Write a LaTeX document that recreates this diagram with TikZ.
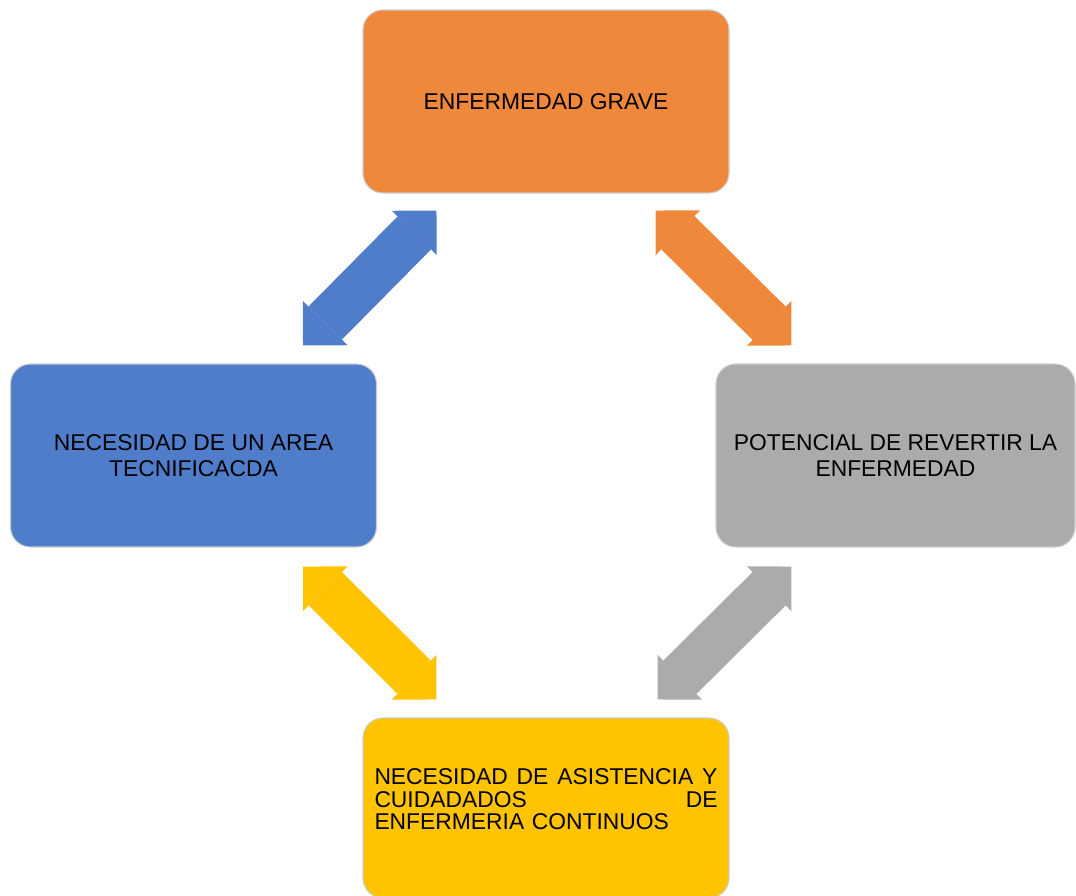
\documentclass[tikz,border=0pt]{standalone}
\usepackage{fontspec}
\setmainfont{Liberation Sans}
\usetikzlibrary{arrows.meta}
\definecolor{naranja}{RGB}{239,136,58}
\definecolor{azul}{RGB}{79,125,201}
\definecolor{gris}{RGB}{171,171,171}
\definecolor{amarillo}{RGB}{255,195,0}

\begin{document}
\begin{tikzpicture}[caja/.style={rounded corners=0.4cm, draw=white!80!black, line width=0.6pt, minimum width=7.32cm, minimum height=3.66cm, align=center, font=\fontsize{13}{14.6}\selectfont},
	punta/.tip={Triangle[width=1.26cm, length=0.63cm, line width=0pt]}]
		\useasboundingbox (0,0) rectangle (21.52,-17.92);
		\node[caja, fill=naranja] (grave) at (10.92,-2.03) {ENFERMEDAD GRAVE};
		\node[caja, fill=azul] (area) at (3.87,-9.11) {NECESIDAD DE UN AREA\\TECNIFICACDA};
		\node[caja, fill=gris, minimum width=7.18cm] (revertir) at (17.91,-9.11) {POTENCIAL DE REVERTIR LA\\ENFERMEDAD};
		\node[caja, fill=amarillo, minimum height=3.6cm, text width=6.86cm, align=left, font=\fontsize{13}{13}\selectfont] (cuidados) at (10.92,-16.16)
			{NECESIDAD\hfill DE\hfill ASISTENCIA\hfill Y\\CUIDADADOS\hfill DE\\ENFERMERIA CONTINUOS\\[-0.1cm]\mbox{}};
		
		\path[line width=0.94cm, punta-punta]
		([shift={(1.48,-0.34)}]grave.south west) edge[azul] ([shift={(-1.48,0.36)}]area.north east)
		([shift={(-1.48,-0.34)}]grave.south east) edge[naranja] ([shift={(1.52,0.36)}]revertir.north west)
		([shift={(-1.48,-0.38)}]area.south east) edge[amarillo] ([shift={(1.48,0.36)}]cuidados.north west)
		([shift={(1.52,-0.38)}]revertir.south west) edge[gris] ([shift={(-1.44,0.36)}]cuidados.north east);
		
	\end{tikzpicture}
\end{document}
